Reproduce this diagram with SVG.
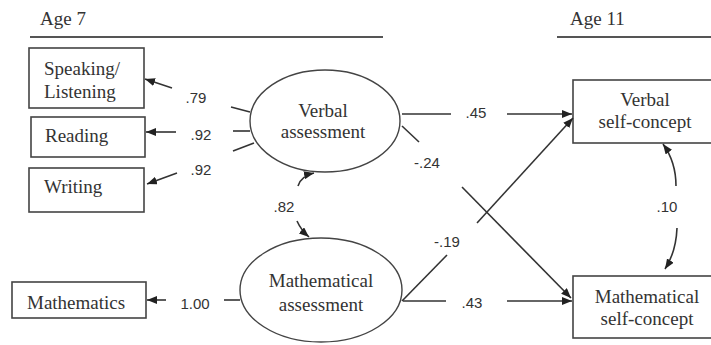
<svg xmlns="http://www.w3.org/2000/svg" width="711" height="345" viewBox="0 0 711 345">
<defs>
<marker id="ah" viewBox="0 0 10 8" refX="10" refY="4" markerWidth="10" markerHeight="8" markerUnits="userSpaceOnUse" orient="auto">
<path d="M0,0 L10,4 L0,8 Z" fill="#222"/>
</marker>
<style>
.box{fill:#fff;stroke:#444;stroke-width:1.6}
.ell{fill:#fff;stroke:#444;stroke-width:1.4}
.t{font-family:"Liberation Serif","Times New Roman",serif;font-size:19px;fill:#333}
.n{font-family:"Liberation Sans",Arial,sans-serif;font-size:15px;fill:#333;text-anchor:middle}
.c{text-anchor:middle}
.ln{stroke:#333;stroke-width:1.6;fill:none}
.ar{stroke:#333;stroke-width:1.6;fill:none;marker-end:url(#ah)}
.hr{stroke:#555;stroke-width:2.2}
</style>
</defs>
<rect width="711" height="345" fill="#fff"/>
<g id="headers">
<text class="t" x="40" y="25">Age 7</text>
<line class="hr" x1="30" y1="37" x2="383" y2="37"/>
<text class="t" x="570" y="25">Age 11</text>
<line class="hr" x1="557" y1="37" x2="711" y2="37"/>
</g>
<g id="speaking">
<rect class="box" x="29" y="48" width="115" height="60"/>
<text class="t" x="44" y="75">Speaking/</text>
<text class="t" x="44" y="98">Listening</text>
</g>
<g id="reading">
<rect class="box" x="31" y="117" width="114" height="40"/>
<text class="t" x="45" y="142">Reading</text>
</g>
<g id="writing">
<rect class="box" x="29" y="168" width="115" height="44"/>
<text class="t" x="44" y="193">Writing</text>
</g>
<g id="mathematics">
<rect class="box" x="12" y="282" width="134" height="36"/>
<text class="t" x="27" y="309">Mathematics</text>
</g>
<g id="verbal-assessment">
<ellipse class="ell" cx="325" cy="121" rx="75" ry="51"/>
<text class="t c" x="323" y="117">Verbal</text>
<text class="t c" x="323" y="138">assessment</text>
</g>
<g id="math-assessment">
<ellipse class="ell" cx="321" cy="290" rx="81" ry="52"/>
<text class="t c" x="321" y="287">Mathematical</text>
<text class="t c" x="321" y="311">assessment</text>
</g>
<g id="verbal-self-concept">
<rect class="box" x="573" y="80" width="160" height="63"/>
<text class="t c" x="645" y="106">Verbal</text>
<text class="t c" x="645" y="128">self-concept</text>
</g>
<g id="math-self-concept">
<rect class="box" x="573" y="276" width="160" height="62"/>
<text class="t c" x="647" y="303">Mathematical</text>
<text class="t c" x="647" y="325">self-concept</text>
</g>
<g id="connectors">
<!-- loadings -->
<line class="ln" x1="250" y1="112" x2="231" y2="107"/>
<line class="ar" x1="172" y1="88" x2="145" y2="79"/>
<line class="ln" x1="250" y1="131" x2="233" y2="131"/>
<line class="ar" x1="176" y1="132" x2="146" y2="132"/>
<line class="ln" x1="254" y1="143" x2="233" y2="151"/>
<line class="ar" x1="177" y1="173" x2="147" y2="184"/>
<line class="ln" x1="240" y1="300" x2="224" y2="300"/>
<line class="ar" x1="166" y1="300" x2="147" y2="300"/>
<!-- .82 correlation -->
<path class="ar" d="M298,186 Q301,176 314,173"/>
<path class="ar" d="M297,221 Q301,230 309,237"/>
<!-- .45 -->
<line class="ln" x1="402" y1="114" x2="451" y2="114"/>
<line class="ar" x1="507" y1="114" x2="572" y2="114"/>
<!-- -.24 -->
<line class="ln" x1="402" y1="126" x2="419" y2="142"/>
<line class="ar" x1="462" y1="187" x2="571" y2="298"/>
<!-- -.19 -->
<line class="ln" x1="402" y1="301" x2="447" y2="255"/>
<line class="ar" x1="477" y1="223" x2="573" y2="118"/>
<!-- .43 -->
<line class="ln" x1="403" y1="301" x2="446" y2="301"/>
<line class="ar" x1="507" y1="301" x2="572" y2="301"/>
<!-- .10 correlation -->
<path class="ar" d="M676,186 Q676,162 663,144"/>
<path class="ar" d="M677,228 Q676,252 665,269"/>
</g>
<g id="labels">
<text class="n" x="196" y="103">.79</text>
<text class="n" x="201" y="140">.92</text>
<text class="n" x="201" y="175">.92</text>
<text class="n" x="284" y="212">.82</text>
<text class="n" x="195" y="309">1.00</text>
<text class="n" x="476" y="118">.45</text>
<text class="n" x="427" y="168">-.24</text>
<text class="n" x="447" y="247">-.19</text>
<text class="n" x="472" y="308">.43</text>
<text class="n" x="667" y="212">.10</text>
</g>
</svg>
